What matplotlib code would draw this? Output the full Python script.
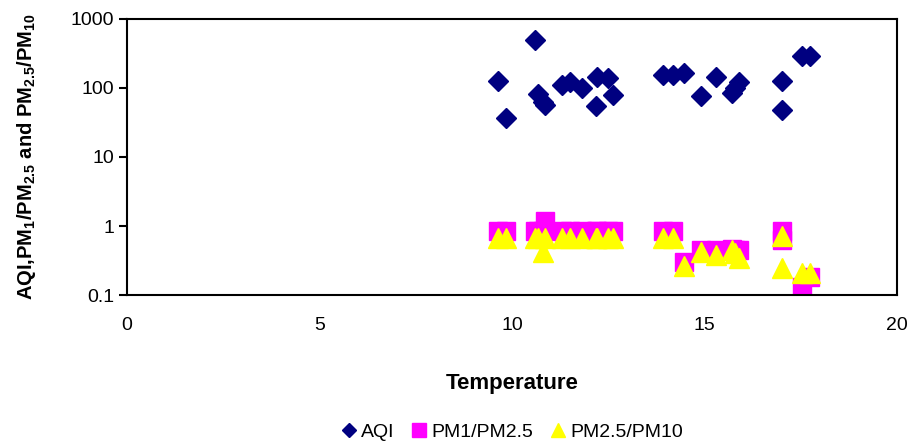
import numpy as np
import matplotlib
matplotlib.use('Agg')
import matplotlib.pyplot as plt

plt.rcParams['font.family'] = ['Liberation Sans', 'DejaVu Sans']
plt.rcParams['mathtext.default'] = 'regular'

# Data
temperature = [9.64, 9.84, 10.6, 10.68, 10.8, 10.86, 11.29, 11.5, 11.81, 12.18,
               12.2, 12.5, 12.63, 13.93, 14.19, 14.47, 14.9, 15.3, 15.71, 15.8,
               15.9, 17.02, 17.02, 17.52, 17.74]
aqi = [126, 37, 497, 82, 62, 57, 110, 123, 99, 55,
       146, 138, 79, 154, 154, 163, 77, 146, 84, 99,
       121, 128, 48, 294, 294]
pm1_pm25 = [0.86, 0.86, 0.86, 0.86, 0.86, 1.2, 0.86, 0.86, 0.86, 0.86,
            0.86, 0.86, 0.86, 0.86, 0.86, 0.30, 0.445, 0.445, 0.46, 0.445,
            0.445, 0.86, 0.62, 0.13, 0.18]
pm25_pm10 = [0.67, 0.67, 0.67, 0.67, 0.42, 0.67, 0.67, 0.67, 0.67, 0.67,
             0.67, 0.67, 0.67, 0.67, 0.67, 0.26, 0.42, 0.38, 0.45, 0.40,
             0.34, 0.71, 0.25, 0.21, 0.21]

xticks = [0, 5, 10, 15, 20]
yticks = [0.1, 1, 10, 100, 1000]
ytick_labels = ['0.1', '1', '10', '100', '1000']

fig = plt.figure(figsize=(9.09, 4.41), dpi=100)
ax = fig.add_axes([0.1397, 0.331, 0.8471, 0.626])

ax.plot(temperature, aqi, 'D', color='#000080', ms=10, mec='#000080', label='AQI')
ax.plot(temperature, pm1_pm25, 's', color='#FF00FF', ms=13.5, mec='#FF00FF',
        label='PM1/PM2.5')
ax.plot(temperature, pm25_pm10, '^', color='#FFFF00', ms=14, mec='#FFFF00',
        label='PM2.5/PM10')

ax.set_yscale('log')
ax.set_xlim(0, 20)
ax.set_ylim(0.1, 1000)
ax.set_xticks(xticks)
ax.set_yticks(yticks, ytick_labels)
ax.minorticks_off()
ax.tick_params(axis='x', length=0, pad=16, labelsize=14)
ax.tick_params(axis='y', length=6, width=1.5, pad=3, labelsize=14)
for s in ax.spines.values():
    s.set_linewidth(1.5)

ax.set_xlabel('Temperature', fontsize=16, fontweight='bold', labelpad=28)
ax.set_ylabel(r'AQI,PM$_1$/PM$_{2.5}$ and PM$_{2.5}$/PM$_{10}$',
              fontsize=14.5, fontweight='bold', labelpad=24)

ax.legend(loc='center', bbox_to_anchor=(0.5, -0.496), ncol=3, frameon=False,
          fontsize=14, markerscale=0.75, handlelength=0.8, handletextpad=0.2,
          columnspacing=0.9)

plt.savefig('out.png', dpi=100)
